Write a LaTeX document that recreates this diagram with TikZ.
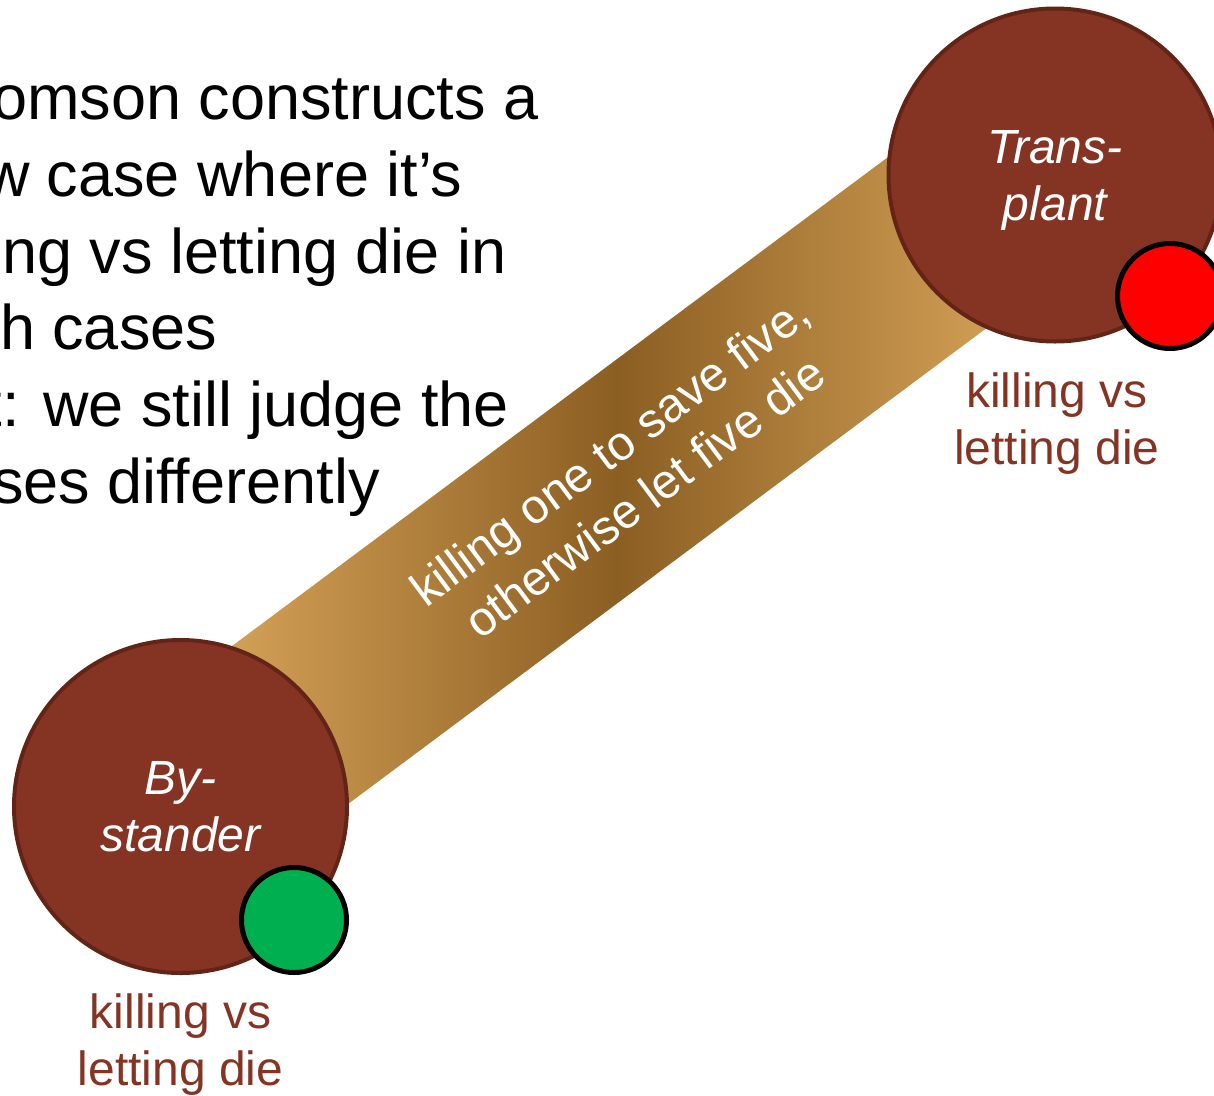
\documentclass[tikz,border=0pt]{standalone}
\usepackage{fontspec}
\setmainfont{Liberation Sans}
\usetikzlibrary{calc}

\definecolor{caseFill}{RGB}{133,52,36}
\definecolor{caseRim}{RGB}{99,36,24}
\definecolor{bandLight}{RGB}{211,160,86}
\definecolor{bandDark}{RGB}{139,94,34}
\definecolor{okGreen}{RGB}{0,176,80}

\begin{document}
\begin{tikzpicture}[x=1pt, y=-1pt,
    every node/.style={inner sep=0pt, outer sep=0pt},
    bigcase/.style={circle, fill=caseFill, draw=caseRim, line width=4pt,
      minimum size=333pt, text=white, align=center, text depth=0pt,
      font=\fontsize{48}{57}\selectfont\itshape},
    verdict/.style={circle, draw=black, line width=5pt, minimum size=105pt},
    caption/.style={text=caseFill, align=center, font=\fontsize{48}{57}\selectfont},
    slidetext/.style={anchor=base west, font=\fontsize{63}{76}\selectfont},
    band/.style={rectangle, minimum width=830pt, minimum height=196pt,
      left color=bandLight, right color=bandLight, middle color=bandDark},
    bandtext/.style={text=white, align=center, font=\fontsize{48}{58}\selectfont}]
    \useasboundingbox (0,0) rectangle (1214,1095);
    \clip (0,0) rectangle (1214,1095);

    % slide text, cut at the left edge
    \node[slidetext] (ln1) at (-8,119) {omson constructs a};
    \node[slidetext] (ln2) at (-16,196) {w case where it’s};
    \node[slidetext] (ln3) at (2,273) {ng vs letting die in};
    \node[slidetext] (ln4) at (0,349) {h cases};
    \node[slidetext] (ln5) at (-15,426) {t: we still judge the};
    \node[slidetext] (ln6) at (-8,503) {ses differently};

    \coordinate (byc) at (180.5,806.5);
    \coordinate (tpc) at (1055,175);
    \coordinate (tpaim) at (1055,155);

    % the link between the two cases
    \node[band, rotate=36.7] (link) at ($(byc)!0.5!(tpaim)$) {};
    \node[bandtext, rotate=36.7] (linklbl) at ($(link.center)+(9,-7)$)
        {killing one to save five,\\otherwise let five die};

    \node[bigcase] (by) at (byc) {By-\\stander};
    \node[bigcase] (tp) at (tpc) {Trans-\\plant};

    \node[verdict, fill=okGreen] (byok) at (294,920) {};
    \node[verdict, fill=red] (tpbad) at (1170,296) {};

    \node[caption] (bylbl) at (180.5,1045) {killing vs\\letting die};
    \node[caption] (tplbl) at (1057,423.5) {killing vs\\letting die};
\end{tikzpicture}
\end{document}
